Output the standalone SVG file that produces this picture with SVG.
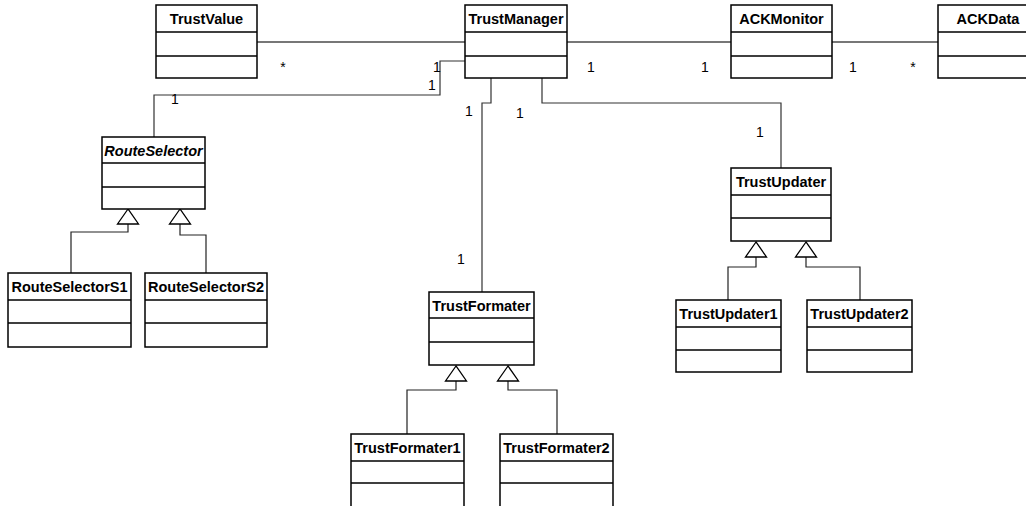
<svg xmlns="http://www.w3.org/2000/svg" width="1026" height="506" viewBox="0 0 1026 506">
  <style>
    .box { fill: #ffffff; stroke: #000000; stroke-width: 1.5; }
    .sep { stroke: #000000; stroke-width: 1.5; }
    .name { font-family: "Liberation Sans", Arial, sans-serif; font-size: 14.5px; font-weight: bold; fill: #000000; text-anchor: middle; }
    .abstract { font-style: italic; }
    .assoc { fill: none; stroke: #777777; stroke-width: 2; }
    .route { fill: none; stroke: #333333; stroke-width: 1.2; }
    .gen { fill: none; stroke: #222222; stroke-width: 1.2; }
    .tri { fill: #ffffff; stroke: #000000; stroke-width: 1.3; }
    .mult { font-family: "Liberation Sans", Arial, sans-serif; font-size: 14px; fill: #000000; text-anchor: middle; }
  </style>

  <!-- associations and generalizations -->
  <g id="connectors">
    <path class="assoc" d="M257,42 H465"/>
    <path class="assoc" d="M567,42 H731"/>
    <path class="assoc" d="M832,42 H938"/>
    <path class="route" d="M465,61 H440 V95 H154 V137"/>
    <path class="route" d="M491,78 V103 H482 V292"/>
    <path class="route" d="M542,78 V103 H781 V168"/>

    <path class="gen" d="M128,224 V232 H71 V273"/>
    <path class="gen" d="M180,224 V235 H206 V273"/>
    <polygon class="tri" points="128,209 117.5,224 138.5,224"/>
    <polygon class="tri" points="180,209 169.5,224 190.5,224"/>

    <path class="gen" d="M456,381 V390 H407 V434"/>
    <path class="gen" d="M508,381 V390 H557 V434"/>
    <polygon class="tri" points="456,366 445.5,381 466.5,381"/>
    <polygon class="tri" points="508,366 497.5,381 518.5,381"/>

    <path class="gen" d="M756,257 V267 H728 V300"/>
    <path class="gen" d="M806,257 V267 H860 V300"/>
    <polygon class="tri" points="756,242 745.5,257 766.5,257"/>
    <polygon class="tri" points="806,242 795.5,257 816.5,257"/>

    <!-- multiplicities -->
    <text class="mult" x="283" y="72">*</text>
    <text class="mult" x="437" y="72">1</text>
    <text class="mult" x="432" y="90">1</text>
    <text class="mult" x="175" y="104">1</text>
    <text class="mult" x="591" y="72">1</text>
    <text class="mult" x="705" y="72">1</text>
    <text class="mult" x="853" y="72">1</text>
    <text class="mult" x="913" y="72">*</text>
    <text class="mult" x="469" y="116">1</text>
    <text class="mult" x="520" y="118">1</text>
    <text class="mult" x="461" y="264">1</text>
    <text class="mult" x="760" y="137">1</text>
  </g>

  <g id="TrustValue">
    <rect class="box" x="156" y="5" width="101" height="73"/>
    <path class="sep" d="M156,32 H257 M156,56 H257"/>
    <text class="name" x="206.5" y="24">TrustValue</text>
  </g>

  <g id="TrustManager">
    <rect class="box" x="465" y="5" width="102" height="73"/>
    <path class="sep" d="M465,32 H567 M465,56 H567"/>
    <text class="name" x="516" y="24">TrustManager</text>
  </g>

  <g id="ACKMonitor">
    <rect class="box" x="731" y="5" width="101" height="73"/>
    <path class="sep" d="M731,32 H832 M731,56 H832"/>
    <text class="name" x="781.5" y="24">ACKMonitor</text>
  </g>

  <g id="ACKData">
    <rect class="box" x="938" y="5" width="102" height="73"/>
    <path class="sep" d="M938,32 H1040 M938,56 H1040"/>
    <text class="name" x="988" y="24">ACKData</text>
  </g>

  <g id="RouteSelector">
    <rect class="box" x="102" y="137" width="103" height="72"/>
    <path class="sep" d="M102,163 H205 M102,187 H205"/>
    <text class="name abstract" x="153.5" y="156">RouteSelector</text>
  </g>

  <g id="RouteSelectorS1">
    <rect class="box" x="8" y="273" width="123" height="74"/>
    <path class="sep" d="M8,300 H131 M8,323 H131"/>
    <text class="name" x="69.5" y="292">RouteSelectorS1</text>
  </g>

  <g id="RouteSelectorS2">
    <rect class="box" x="145" y="273" width="122" height="74"/>
    <path class="sep" d="M145,300 H267 M145,323 H267"/>
    <text class="name" x="206" y="292">RouteSelectorS2</text>
  </g>

  <g id="TrustFormater">
    <rect class="box" x="429" y="292" width="105" height="73"/>
    <path class="sep" d="M429,318 H534 M429,342 H534"/>
    <text class="name" x="481.5" y="311">TrustFormater</text>
  </g>

  <g id="TrustFormater1">
    <rect class="box" x="351" y="434" width="113" height="100"/>
    <path class="sep" d="M351,461 H464 M351,483 H464"/>
    <text class="name" x="407.5" y="453">TrustFormater1</text>
  </g>

  <g id="TrustFormater2">
    <rect class="box" x="500" y="434" width="113" height="100"/>
    <path class="sep" d="M500,461 H613 M500,483 H613"/>
    <text class="name" x="556.5" y="453">TrustFormater2</text>
  </g>

  <g id="TrustUpdater">
    <rect class="box" x="731" y="168" width="100" height="73"/>
    <path class="sep" d="M731,195 H831 M731,218 H831"/>
    <text class="name" x="781" y="187">TrustUpdater</text>
  </g>

  <g id="TrustUpdater1">
    <rect class="box" x="676" y="300" width="105" height="72"/>
    <path class="sep" d="M676,327 H781 M676,350 H781"/>
    <text class="name" x="728.5" y="319">TrustUpdater1</text>
  </g>

  <g id="TrustUpdater2">
    <rect class="box" x="807" y="300" width="105" height="72"/>
    <path class="sep" d="M807,327 H912 M807,350 H912"/>
    <text class="name" x="859.5" y="319">TrustUpdater2</text>
  </g>
</svg>
